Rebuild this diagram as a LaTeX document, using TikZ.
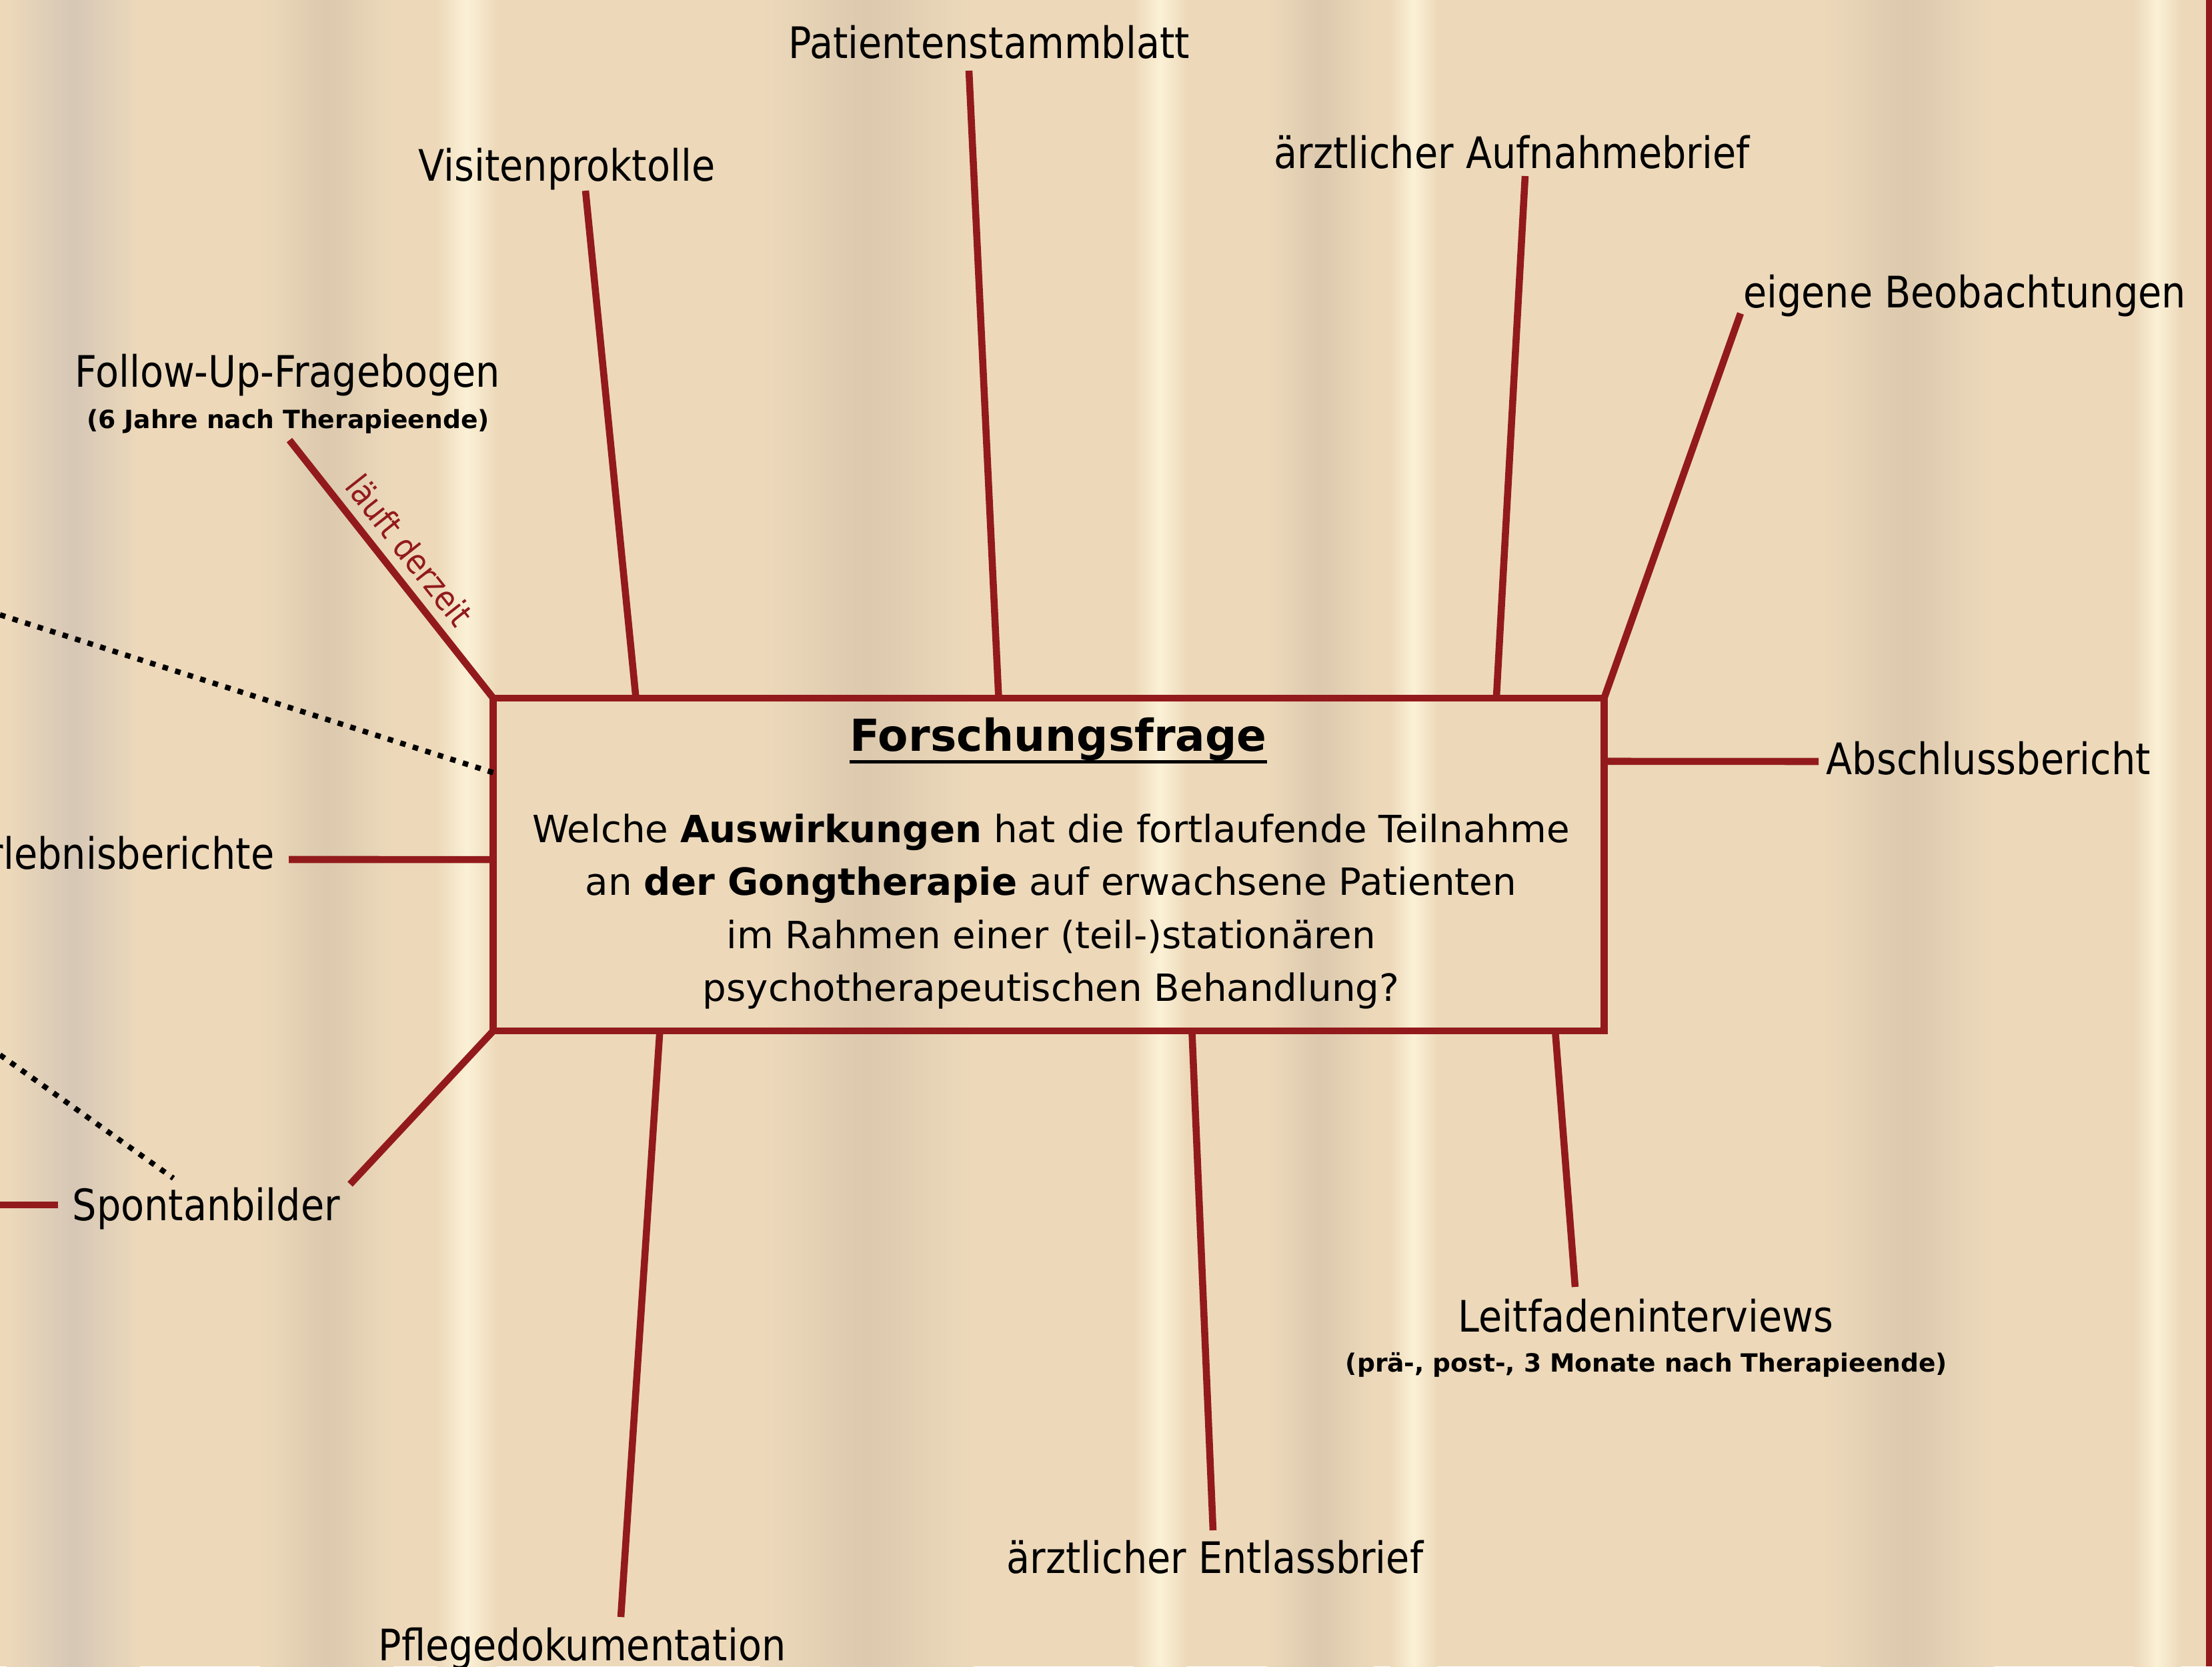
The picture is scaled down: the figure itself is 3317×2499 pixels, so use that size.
\documentclass[tikz,border=0pt]{standalone}
\usepackage{fontspec}
\setmainfont{DejaVu Sans}[FakeStretch=0.88]
\newfontfamily\boxfont{DejaVu Sans}
\usetikzlibrary{calc}
\definecolor{gongRed}{HTML}{921A1D}
\definecolor{paperBg}{HTML}{EDD9BA}
\definecolor{paperLight}{HTML}{FBF1D6}
\definecolor{paperDark}{HTML}{DCC9AE}
\definecolor{paperGrey}{HTML}{D6C7B6}
\tikzset{
  linkR/.style={draw=gongRed, line width=3pt},
  linkDot/.style={draw=black, line width=2.3pt, dash pattern=on 2.4pt off 3.2pt},
  labelA/.style={anchor=base, inner sep=0pt, font=\fontsize{18.5}{22}\selectfont},
  labelSub/.style={anchor=base, inner sep=0pt, font=\boxfont\bfseries\fontsize{10.7}{13}\selectfont},
  labelRun/.style={inner sep=2pt, text=gongRed, font=\fontsize{14.5}{16}\selectfont},
  boxQ/.style={draw=gongRed, line width=3pt, outer sep=0pt, inner sep=0pt,
               minimum width=16.65cm, minimum height=4.99cm},
}

\begin{document}
\begin{tikzpicture}[x=0.01cm, y=-0.01cm]
  \useasboundingbox (0,0) rectangle (3317,2499);
  % paper background
  \fill[paperBg] (0,0) rectangle (3317,2499);
  \foreach \sx/\sw/\sc in {110/100/paperGrey, 490/100/paperDark, 700/45/paperLight,
      1300/160/paperDark, 1740/40/paperLight, 1980/80/paperDark, 2120/35/paperLight,
      2860/130/paperDark, 3235/35/paperLight}
    \shade[left color=paperBg, right color=paperBg, middle color=\sc]
      (\sx-\sw,0) rectangle (\sx+\sw,2499);
  \fill[gongRed] (3308,0) rectangle (3317,2499);

  % research question
  \node[boxQ] (q) at (1572.5,1296.5) {};
  \node[anchor=base, inner sep=0pt, font=\boxfont\bfseries\fontsize{18.8}{22}\selectfont]
    (qhead) at (1587,1126) {Forschungsfrage};
  \draw[line width=1.4pt] ([yshift=-4.6pt]qhead.base west) -- ([yshift=-4.6pt]qhead.base east);
  \node[align=center, inner sep=0pt, font=\boxfont\fontsize{16}{22.6}\selectfont] (qbody) at (1576,1367)
    {Welche \textbf{Auswirkungen} hat die fortlaufende Teilnahme\\
     an \textbf{der Gongtherapie} auf erwachsene Patienten\\
     im Rahmen einer (teil-)stationären\\
     psychotherapeutischen Behandlung?};

  % sources
  \node[labelA] (pst) at (1483,87) {Patientenstammblatt};
  \node[labelA] (vis) at (850,271) {Visitenproktolle};
  \node[labelA] (auf) at (2267,252) {ärztlicher Aufnahmebrief};
  \node[labelA] (beo) at (2946,461) {eigene Beobachtungen};
  \node[labelA] (fup) at (431,580) {Follow-Up-Fragebogen};
  \node[labelSub] (fups) at (432,642) {(6 Jahre nach Therapieende)};
  \node[labelA, anchor=base east] (erl) at (412,1303) {Erlebnisberichte};
  \node[labelA, anchor=base west] (abs) at (2738,1161) {Abschlussbericht};
  \node[labelA, anchor=base west] (spo) at (108,1830) {Spontanbilder};
  \node[labelA] (pfl) at (873,2490) {Pflegedokumentation};
  \node[labelA] (ent) at (1822,2359) {ärztlicher Entlassbrief};
  \node[labelA] (lei) at (2468,1997) {Leitfadeninterviews};
  \node[labelSub] (leis) at (2469,2057) {(prä-, post-, 3 Monate nach Therapieende)};

  % free ends of the branches
  \coordinate (pst-e) at (1453,106);
  \coordinate (vis-e) at (878,286);
  \coordinate (auf-e) at (2287,264);
  \coordinate (beo-e) at (2610,470);
  \coordinate (fup-e) at (434,660);
  \coordinate (abs-e) at (2727,1142);
  \coordinate (erl-e) at (433,1289);
  \coordinate (spo-e) at (525,1776);
  \coordinate (spo-w) at (0,1807);
  \coordinate (pfl-e) at (931,2425);
  \coordinate (ent-e) at (1819,2295);
  \coordinate (lei-e) at (2362,1930);
  \coordinate (dot1-s) at (0,922);
  \coordinate (dot2-s) at (0,1582);
  \coordinate (dot2-e) at (260,1767);

  \draw[linkR] (pst-e) -- ($(q.north west)!0.455!(q.north east)$);
  \draw[linkR] (vis-e) -- ($(q.north west)!0.1285!(q.north east)$);
  \draw[linkR] (auf-e) -- ($(q.north west)!0.903!(q.north east)$);
  \draw[linkR] (beo-e) -- (q.north east);
  \draw[linkR] (fup-e) -- (q.north west)
    node[labelRun, pos=0.49, sloped, above=2pt] {läuft derzeit};
  \draw[linkR] (abs-e) -- ($(q.north east)!0.19!(q.south east)$);
  \draw[linkR] (erl-e) -- ($(q.north west)!0.485!(q.south west)$);
  \draw[linkR] (spo-e) -- (q.south west);
  \draw[linkR] (spo-w) -- ++(87,0);
  \draw[linkR] (pfl-e) -- ($(q.south west)!0.15!(q.south east)$);
  \draw[linkR] (ent-e) -- ($(q.south west)!0.629!(q.south east)$);
  \draw[linkR] (lei-e) -- ($(q.south west)!0.956!(q.south east)$);
  \draw[linkDot] (dot1-s) -- ($(q.north west)!0.224!(q.south west)$);
  \draw[linkDot] (dot2-s) -- (dot2-e);
\end{tikzpicture}
\end{document}
